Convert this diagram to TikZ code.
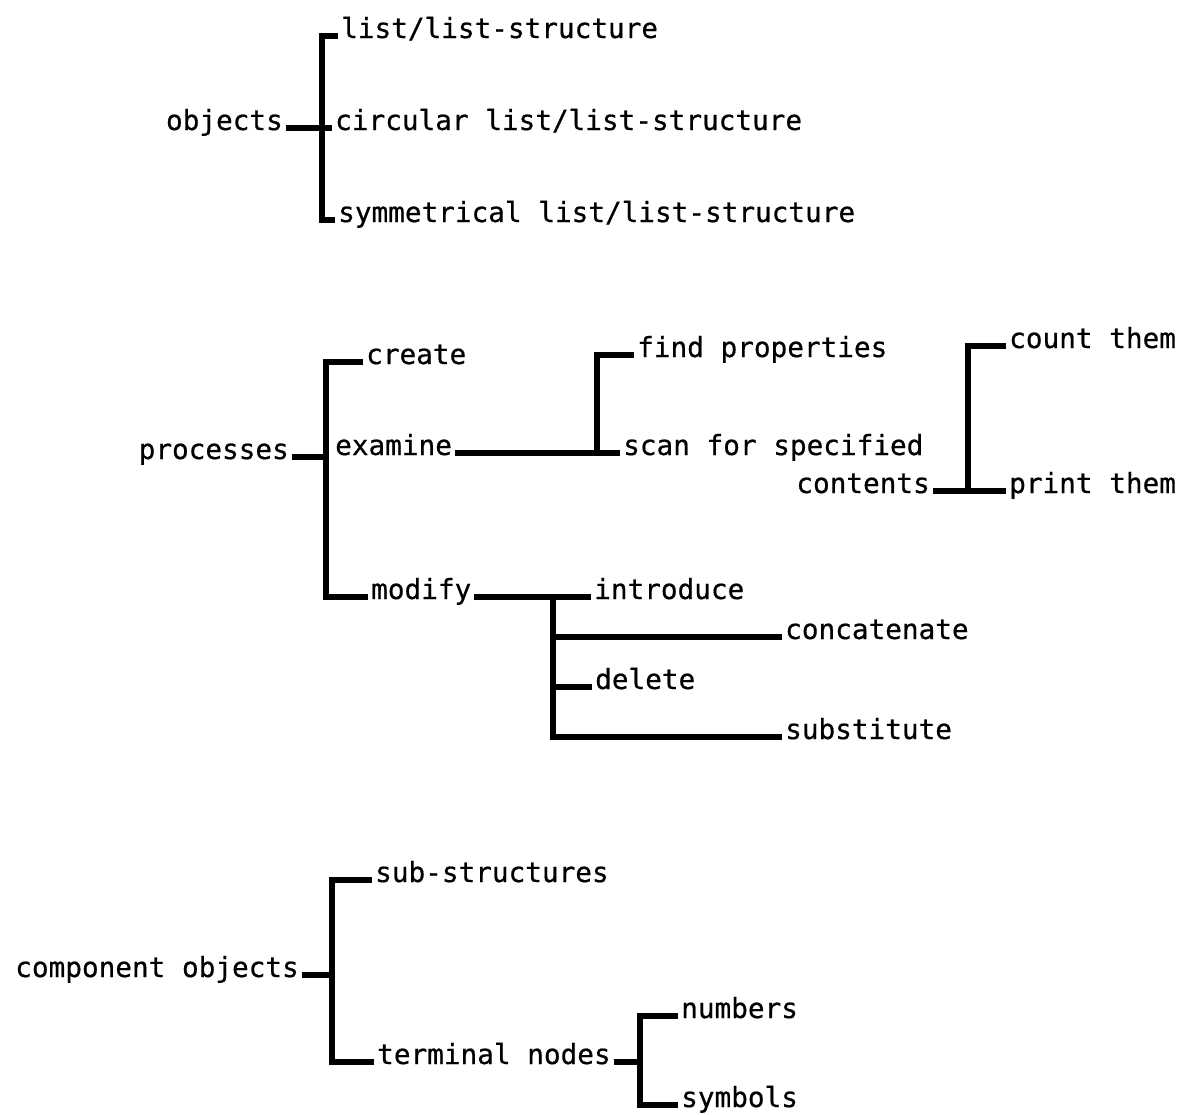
\documentclass[tikz,border=0pt]{standalone}
\usepackage{fontspec}
\newfontfamily\plotfont{DejaVu Sans Mono}[FakeBold=0.6]
\newcommand\plotlbl[1]{\raisebox{-2pt}{#1}}
\tikzset{
  lw/.style={font=\plotfont\fontsize{27.7pt}{30pt}\selectfont, inner xsep=3pt, inner ysep=0pt, anchor=base west},
  le/.style={font=\plotfont\fontsize{27.7pt}{30pt}\selectfont, inner xsep=3pt, inner ysep=0pt, anchor=base east},
  wire/.style={line width=5.5pt, line join=miter, line cap=butt}
}
\begin{document}
\begin{tikzpicture}[x=1pt,y=-1pt]
\useasboundingbox (0,0) rectangle (1199,1114);
% group 1
\node[lw] (l1) at (338,36) {\plotlbl{list/list-structure}};
\node[lw] (l2) at (332,128) {\plotlbl{circular list/list-structure}};
\node[lw] (l3) at (335,220) {\plotlbl{symmetrical list/list-structure}};
\node[le] (obj) at (286,128) {\plotlbl{objects}};
\coordinate (b1t) at (322,36);
\draw[wire] (l1.base west) -- (b1t) -- (b1t |- l3.base west) -- (l3.base west);
\draw[wire] (obj.base east) -- (l2.base west);
% group 2
\node[le] (proc) at (292,457) {\plotlbl{processes}};
\node[lw] (create) at (363,362) {\plotlbl{create}};
\node[lw] (exam) at (332,453) {\plotlbl{examine}};
\node[lw] (modify) at (368,597) {\plotlbl{modify}};
\coordinate (b2t) at (326,362);
\draw[wire] (create.base west) -- (b2t) -- (b2t |- modify.base west) -- (modify.base west);
\draw[wire] (proc.base east) -- (b2t |- proc.base east);
% examine subtree
\node[lw] (find) at (634,355) {\plotlbl{find properties}};
\node[lw] (scan) at (620,453) {\plotlbl{scan for specified}};
\node[le] (cont) at (933,491) {\plotlbl{contents}};
\coordinate (b3t) at (597,355);
\draw[wire] (find.base west) -- (b3t) -- (b3t |- scan.base west);
\draw[wire] (exam.base east) -- (scan.base west);
% contents subtree
\node[lw] (count) at (1006,346) {\plotlbl{count them}};
\node[lw] (print) at (1006,491) {\plotlbl{print them}};
\coordinate (b4t) at (968,346);
\draw[wire] (count.base west) -- (b4t) -- (b4t |- print.base west) -- (print.base west);
\draw[wire] (cont.base east) -- (b4t |- cont.base east);
% modify subtree
\node[lw] (intro) at (591,597) {\plotlbl{introduce}};
\node[lw] (concat) at (782,637) {\plotlbl{concatenate}};
\node[lw] (delete) at (592,687) {\plotlbl{delete}};
\node[lw] (subst) at (782,737) {\plotlbl{substitute}};
\coordinate (b5) at (553,597);
\draw[wire] (modify.base east) -- (intro.base west);
\draw[wire] (b5) -- (b5 |- subst.base west) -- (subst.base west);
\draw[wire] (b5 |- concat.base west) -- (concat.base west);
\draw[wire] (b5 |- delete.base west) -- (delete.base west);
% group 3
\node[le] (comp) at (302,975) {\plotlbl{component objects}};
\node[lw] (sub) at (372,880) {\plotlbl{sub-structures}};
\node[lw] (term) at (374,1062) {\plotlbl{terminal nodes}};
\coordinate (b6t) at (332,880);
\draw[wire] (sub.base west) -- (b6t) -- (b6t |- term.base west) -- (term.base west);
\draw[wire] (comp.base east) -- (b6t |- comp.base east);
\node[lw] (num) at (678,1016) {\plotlbl{numbers}};
\node[lw] (sym) at (678,1105) {\plotlbl{symbols}};
\coordinate (b7t) at (640,1016);
\draw[wire] (num.base west) -- (b7t) -- (b7t |- sym.base west) -- (sym.base west);
\draw[wire] (term.base east) -- (b7t |- term.base east);
\end{tikzpicture}
\end{document}
